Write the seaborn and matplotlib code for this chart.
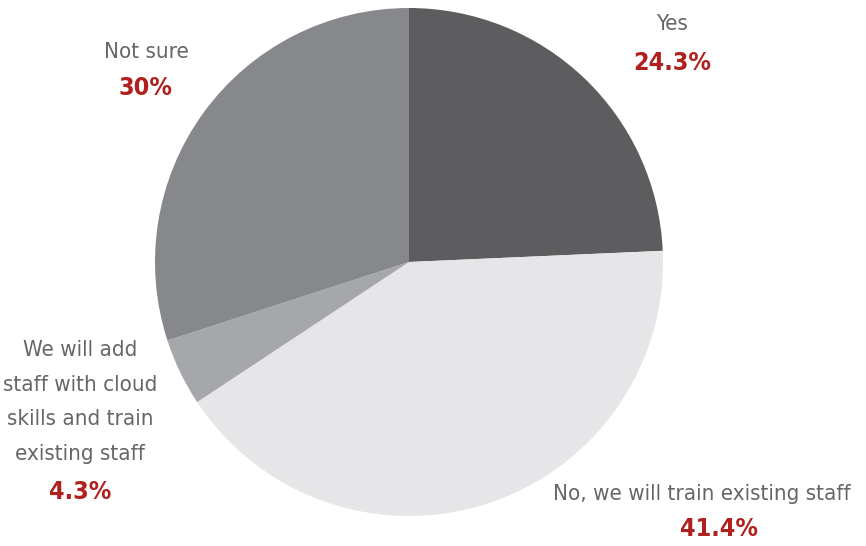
import matplotlib
matplotlib.use("Agg")
import matplotlib.pyplot as plt
import seaborn as sns

categories = ["Yes", "No, we will train existing staff",
              "We will add\nstaff with cloud\nskills and train\nexisting staff", "Not sure"]
values = [24.3, 41.4, 4.3, 30.0]
pct_labels = ["24.3%", "41.4%", "4.3%", "30%"]
colors = ["#5d5d5f", "#e6e6e8", "#a6a7aa", "#87888b"]

sns.set_theme(style="white")
plt.rcParams['font.family'] = ['DejaVu Sans']
plt.rcParams['font.stretch'] = 'condensed'

W, H = 866, 546
fig = plt.figure(figsize=(W / 100, H / 100), dpi=100)
cx, cy, r = 409, 262, 254
ax = fig.add_axes([(cx - r) / W, (H - cy - r) / H, 2 * r / W, 2 * r / H])
ax.pie(values, colors=colors, startangle=90, counterclock=False, radius=1,
       wedgeprops=dict(linewidth=0))
ax.set_xlim(-1, 1)
ax.set_ylim(-1, 1)
ax.set_aspect("equal")
ax.axis("off")

gray = "#666666"
red = "#b0201e"
fs = 16

# (label center x, label y, pct center x, pct y) in pixels
pos = [
    (672, 24, 672, 63),
    (702, 494, 719, 529),
    (80, 402, 80, 492),
    (146, 52, 146, 88),
]
for (x, ly, px, py), cat, pl in zip(pos, categories, pct_labels):
    fig.text(x / W, 1 - ly / H, cat, ha="center", va="center", fontsize=fs,
             color=gray, linespacing=1.9, fontstretch="condensed")
    fig.text(px / W, 1 - py / H, pl, ha="center", va="center", fontsize=18,
             color=red, fontweight="bold", fontstretch="condensed")

fig.savefig("out.png", dpi=100)
